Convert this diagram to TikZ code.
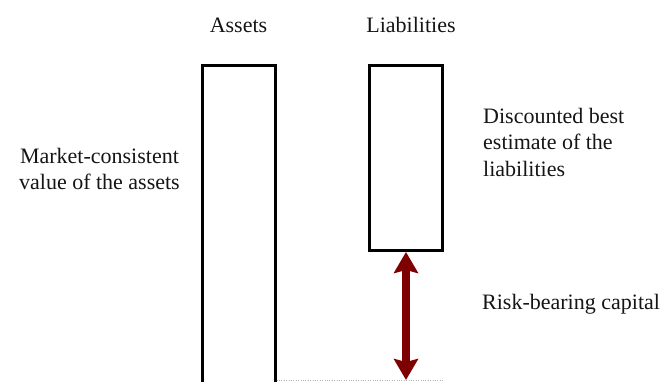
\documentclass[tikz,border=0pt]{standalone}
\usepackage{fontspec}
\setmainfont{Liberation Serif}
\usetikzlibrary{positioning,arrows.meta}
\definecolor{capred}{HTML}{7F0000}
\definecolor{textdark}{HTML}{151515}

\begin{document}
\begin{tikzpicture}[
  x=1pt, y=1pt,
  font=\fontsize{22}{26.5}\selectfont,
  column/.style={
    draw=black, line width=3pt, fill=white,
    minimum width=73pt, inner sep=0pt
  },
  head/.style={inner sep=0pt, text=textdark},
  note/.style={inner sep=0pt, text=textdark, align=left},
  gaparrow/.style={
    {Stealth[length=21pt,width=24pt,inset=3pt]}-{Stealth[length=21pt,width=24pt,inset=3pt]},
    line width=8pt, color=capred
  }
]
  \useasboundingbox (0,0) rectangle (665,-381);
  % the two columns of the balance sheet
  \node[column, minimum height=318pt] (assets) at (238.5,-224) {};
  \node[column, minimum height=185.5pt] (liabilities) at (406,-157.75) {};
  \coordinate (floor) at (0,-380);
  \draw[dotted, gray!60] (assets.east |- floor) -- (liabilities.east |- floor);
  % headings
  \node[head, above=30.5pt of assets] (assetshead) {Assets};
  \node[head, above=30.5pt of liabilities, xshift=5pt] (liabhead) {Liabilities};
  % side notes
  \node[note, align=center, anchor=north east] (mcv) at (180,-148)
    {Market-consistent\\value of the assets};
  \node[note, anchor=north west] (dbe) at (483,-108)
    {Discounted best\\estimate of the\\liabilities};
  \node[note, anchor=base west] (rbc) at (482,-309) {Risk-bearing capital};
  % gap between the columns
  \draw[gaparrow] (liabilities.south) -- (liabilities.south |- floor);
\end{tikzpicture}
\end{document}
